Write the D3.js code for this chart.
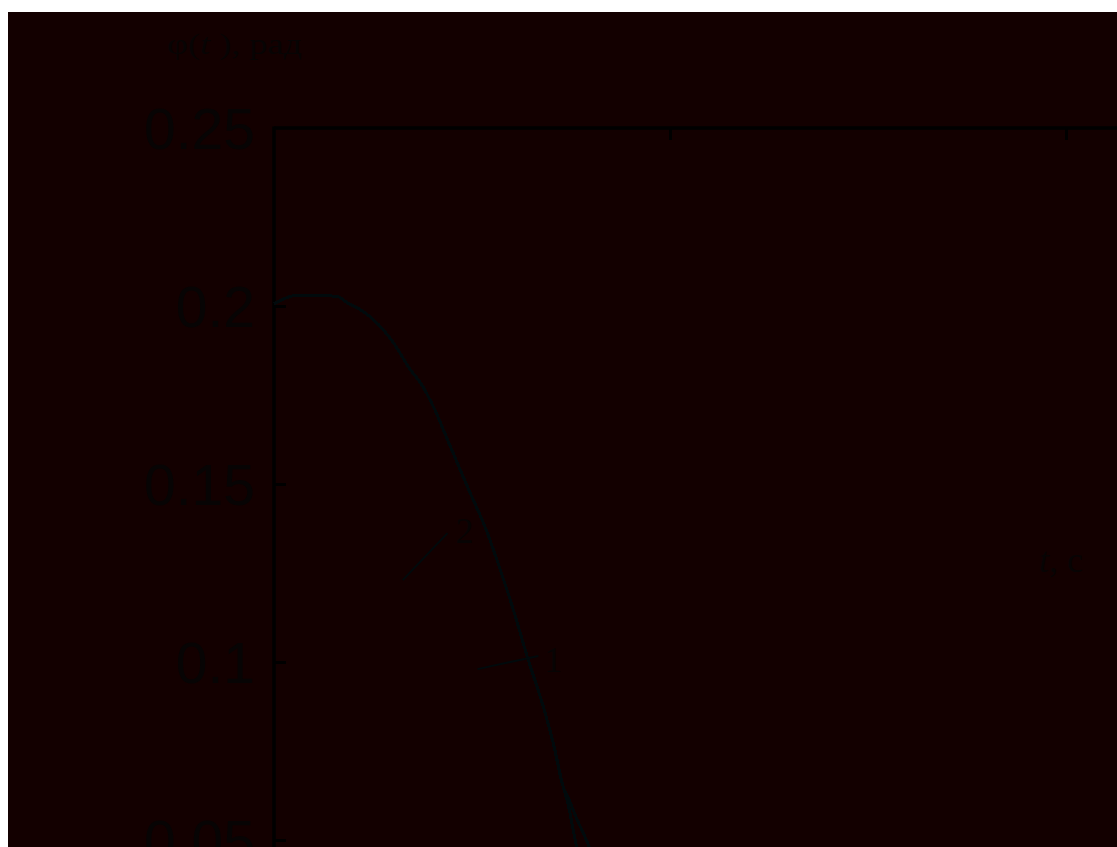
<!DOCTYPE html>
<html>
<head>
<meta charset="utf-8">
<script src="https://cdn.jsdelivr.net/npm/d3@7"></script>
<style>
  html, body { margin: 0; padding: 0; background: #ffffff; }
  svg { display: block; }
</style>
</head>
<body>
<svg id="chart" width="1117" height="847"></svg>
<script>
// time (s) and angle (rad)
const tShared = [0.0, 0.0126, 0.0252, 0.0781, 0.0932, 0.1096, 0.1259, 0.1511, 0.1725, 0.1851,
                 0.2015, 0.2229, 0.2443, 0.2695, 0.2859, 0.3023, 0.3199, 0.3401, 0.3526, 0.3652];
const phiShared = [0.2006, 0.2020, 0.2029, 0.2028, 0.2008, 0.1989, 0.1961, 0.1896, 0.1820, 0.1784,
                   0.1716, 0.1604, 0.1492, 0.1362, 0.1258, 0.1146, 0.1014, 0.0874, 0.0772, 0.0649];
// tails where the two curves part
const tTail1 = [0.3728, 0.3829, 0.3917, 0.4018];
const phiTail1 = [0.0612, 0.0556, 0.0514, 0.0458];
const tTail2 = [0.3716, 0.3778, 0.3841];
const phiTail2 = [0.0598, 0.0528, 0.0458];

const yTicks = [0.2, 0.15, 0.1, 0.05];
const xTicks = [0.5, 1.0];

// curve labels with leader lines (data units)
const curveLabels = [
  {text: "2", t: 0.2292, phi: 0.1334, from: [0.1625, 0.1230], to: [0.2191, 0.1362]},
  {text: "1", t: 0.3413, phi: 0.0972, from: [0.2569, 0.0980], to: [0.3338, 0.1017]}
];

const bg = "#130000";
const ink = "#070404";
const lineCol = "#000000";
const curveCol = "#010a0c";

const svg = d3.select("#chart");
const margin = {top: 128, left: 274};

svg.append("rect")
  .attr("x", 8).attr("y", 12)
  .attr("width", 1117 - 8).attr("height", 847 - 12)
  .attr("fill", bg);

const x = d3.scaleLinear().domain([0, 1]).range([0, 792]);
const y = d3.scaleLinear().domain([0, 0.25]).range([890, 0]);

const g = svg.append("g").attr("transform", `translate(${margin.left},${margin.top})`);

// left axis: ticks pointing inward, big sans labels
const yAxis = g.append("g")
  .call(d3.axisLeft(y).tickValues(yTicks).tickSizeInner(-12).tickSizeOuter(0)
    .tickPadding(19).tickFormat(d => String(d)));
yAxis.select(".domain").remove();
yAxis.selectAll(".tick line").attr("stroke", lineCol).attr("stroke-width", 3);
yAxis.selectAll(".tick text")
  .attr("fill", ink)
  .style("font-family", "'Liberation Sans', Arial, sans-serif")
  .style("font-size", "57px")
  .attr("dy", "0.36em");

// top frame with inward ticks, no labels
const xAxis = g.append("g")
  .call(d3.axisTop(x).tickValues(xTicks).tickSizeInner(-12).tickSizeOuter(0).tickFormat(""));
xAxis.select(".domain").remove();
xAxis.selectAll(".tick line").attr("stroke", lineCol).attr("stroke-width", 3);

// frame lines
g.append("line")
  .attr("x1", x(0)).attr("x2", x(1.2))
  .attr("y1", y(0.25)).attr("y2", y(0.25))
  .attr("stroke", lineCol).attr("stroke-width", 3.5);
g.append("line")
  .attr("x1", x(0)).attr("x2", x(0))
  .attr("y1", y(0.25) - 1.5).attr("y2", y(0))
  .attr("stroke", lineCol).attr("stroke-width", 3.5);

// "0.25" label at the corner
g.append("text")
  .attr("x", x(0) - 19).attr("y", y(0.25)).attr("dy", "0.36em")
  .attr("text-anchor", "end")
  .attr("fill", ink)
  .style("font-family", "'Liberation Sans', Arial, sans-serif")
  .style("font-size", "57px")
  .text("0.25");

const line = d3.line()
  .x(d => x(d[0]))
  .y(d => y(d[1]))
  .curve(d3.curveMonotoneX);

const shared = tShared.map((t, i) => [t, phiShared[i]]);
const curve1 = shared.concat(tTail1.map((t, i) => [t, phiTail1[i]]));
const curve2 = shared.concat(tTail2.map((t, i) => [t, phiTail2[i]]));

[curve1, curve2].forEach(c => {
  g.append("path")
    .datum(c)
    .attr("d", line)
    .attr("fill", "none")
    .attr("stroke", curveCol)
    .attr("stroke-width", 3)
    .style("shape-rendering", "crispEdges");
});

// leaders and numbers
curveLabels.forEach(l => {
  g.append("line")
    .attr("x1", x(l.from[0])).attr("y1", y(l.from[1]))
    .attr("x2", x(l.to[0])).attr("y2", y(l.to[1]))
    .attr("stroke", curveCol).attr("stroke-width", 2);
  g.append("text")
    .attr("x", x(l.t)).attr("y", y(l.phi))
    .attr("fill", ink)
    .style("font-family", "'Liberation Serif', 'Times New Roman', serif")
    .style("font-size", "36px")
    .text(l.text);
});

// x axis title
const xt = g.append("text")
  .attr("x", x(0.966)).attr("y", y(0.1253))
  .attr("fill", ink)
  .style("font-family", "'Liberation Serif', 'Times New Roman', serif")
  .style("font-size", "36px");
xt.append("tspan").style("font-style", "italic").text("t");
xt.append("tspan").text(", c");

// y axis title
const yt = svg.append("text")
  .attr("x", 167).attr("y", 54)
  .attr("fill", ink)
  .attr("textLength", 135)
  .attr("lengthAdjust", "spacingAndGlyphs")
  .style("font-family", "'Liberation Serif', 'Times New Roman', serif")
  .style("font-size", "29px");
yt.append("tspan").text("φ(");
yt.append("tspan").style("font-style", "italic").text("t");
yt.append("tspan").text(" ), рад");
</script>
</body>
</html>
